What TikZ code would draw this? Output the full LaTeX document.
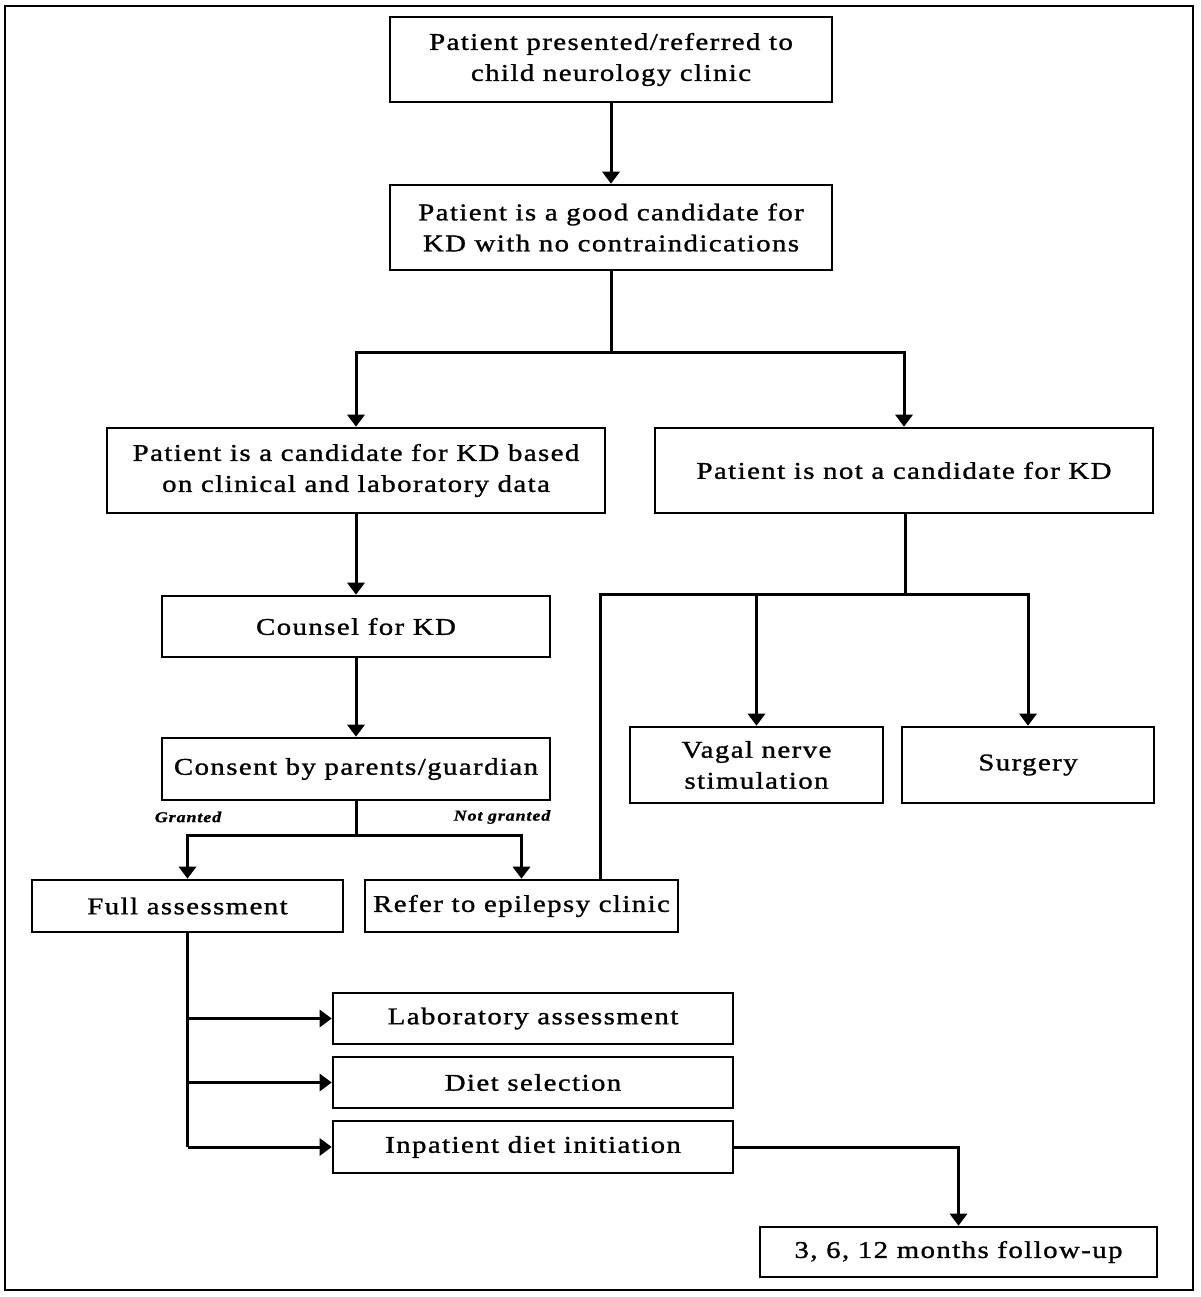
\documentclass[tikz,border=0pt]{standalone}
\usepackage{fontspec}
\setmainfont{Liberation Serif}[FakeStretch=1.2, LetterSpace=6, FakeBold=1.2]
\usetikzlibrary{arrows.meta}
\tikzset{
  box/.style={draw, line width=2.6pt, rectangle, align=center, inner sep=2pt,
    font=\fontsize{24}{31}\selectfont},
  conn/.style={line width=3pt},
  arr/.style={line width=3pt, -{Triangle[width=17pt,length=12pt]}},
  lbl/.style={font=\fontsize{15}{17}\selectfont\itshape\bfseries, inner sep=0pt}
}
\begin{document}
\begin{tikzpicture}[x=1pt,y=-1pt]
\useasboundingbox (0,0) rectangle (1200,1297);
\draw[line width=2pt] (5,6) rectangle (1193,1290);

\node[box, minimum width=442pt, minimum height=85pt] (b1) at (611,59.5) {Patient presented/referred to\\child neurology clinic};
\node[box, minimum width=442pt, minimum height=85pt] (b2) at (611,227.5) {Patient is a good candidate for\\KD with no contraindications};
\node[box, minimum width=498pt, minimum height=85pt] (b3) at (356,470.5) {Patient is a candidate for KD based\\on clinical and laboratory data};
\node[box, minimum width=498pt, minimum height=85pt] (b4) at (904,470.5) {Patient is not a candidate for KD};
\node[box, minimum width=388pt, minimum height=61pt] (b5) at (356,626.5) {Counsel for KD};
\node[box, minimum width=388pt, minimum height=62pt] (b6) at (356,769) {Consent by parents/guardian};
\node[box, minimum width=311pt, minimum height=52pt] (b7) at (187.5,906) {Full assessment};
\node[box, minimum width=313pt, minimum height=52pt] (b8) at (521.5,906) {Refer to epilepsy clinic};
\node[box, minimum width=253pt, minimum height=76pt] (b9) at (756.5,765) {Vagal nerve\\stimulation};
\node[box, minimum width=252pt, minimum height=76pt] (b10) at (1028,765) {Surgery};
\node[box, minimum width=400pt, minimum height=51pt] (b11) at (533,1018.5) {Laboratory assessment};
\node[box, minimum width=400pt, minimum height=51pt] (b12) at (533,1082.5) {Diet selection};
\node[box, minimum width=400pt, minimum height=52pt] (b13) at (533,1147) {Inpatient diet initiation};
\node[box, minimum width=397pt, minimum height=50pt] (b14) at (958.5,1252) {3, 6, 12 months follow-up};

\node[lbl] (g) at (188,817) {Granted};
\node[lbl] (ng) at (502,817) {Not granted};

\coordinate (j1) at (611,352);
\coordinate (j2) at (905,594);
\coordinate (j3) at (600,594);
\coordinate (j4) at (356,835);

\draw[arr] (b1) -- (b2);
\draw[conn] (b2.south) -- (j1);
\draw[arr] (j1) -| (b3.north);
\draw[arr] (j1) -| (b4.north);
\draw[arr] (b3) -- (b5);
\draw[arr] (b5) -- (b6);
\draw[conn] (b4.south -| j2) -- (j2);
\draw[conn] (j2) -- (j3) -- (j3 |- b8.north);
\draw[arr] (j2) -| (b9.north);
\draw[arr] (j2) -| (b10.north);
\draw[conn] (b6.south) -- (j4);
\draw[arr] (j4) -| (b7.north);
\draw[arr] (j4) -| (b8.north);
\draw[conn] (b7.south) -- (b7.south |- b13.west);
\draw[arr] (b7.south |- b11.west) -- (b11.west);
\draw[arr] (b7.south |- b12.west) -- (b12.west);
\draw[arr] (b7.south |- b13.west) -- (b13.west);
\draw[arr] (b13.east) -| (b14.north);
\end{tikzpicture}
\end{document}
